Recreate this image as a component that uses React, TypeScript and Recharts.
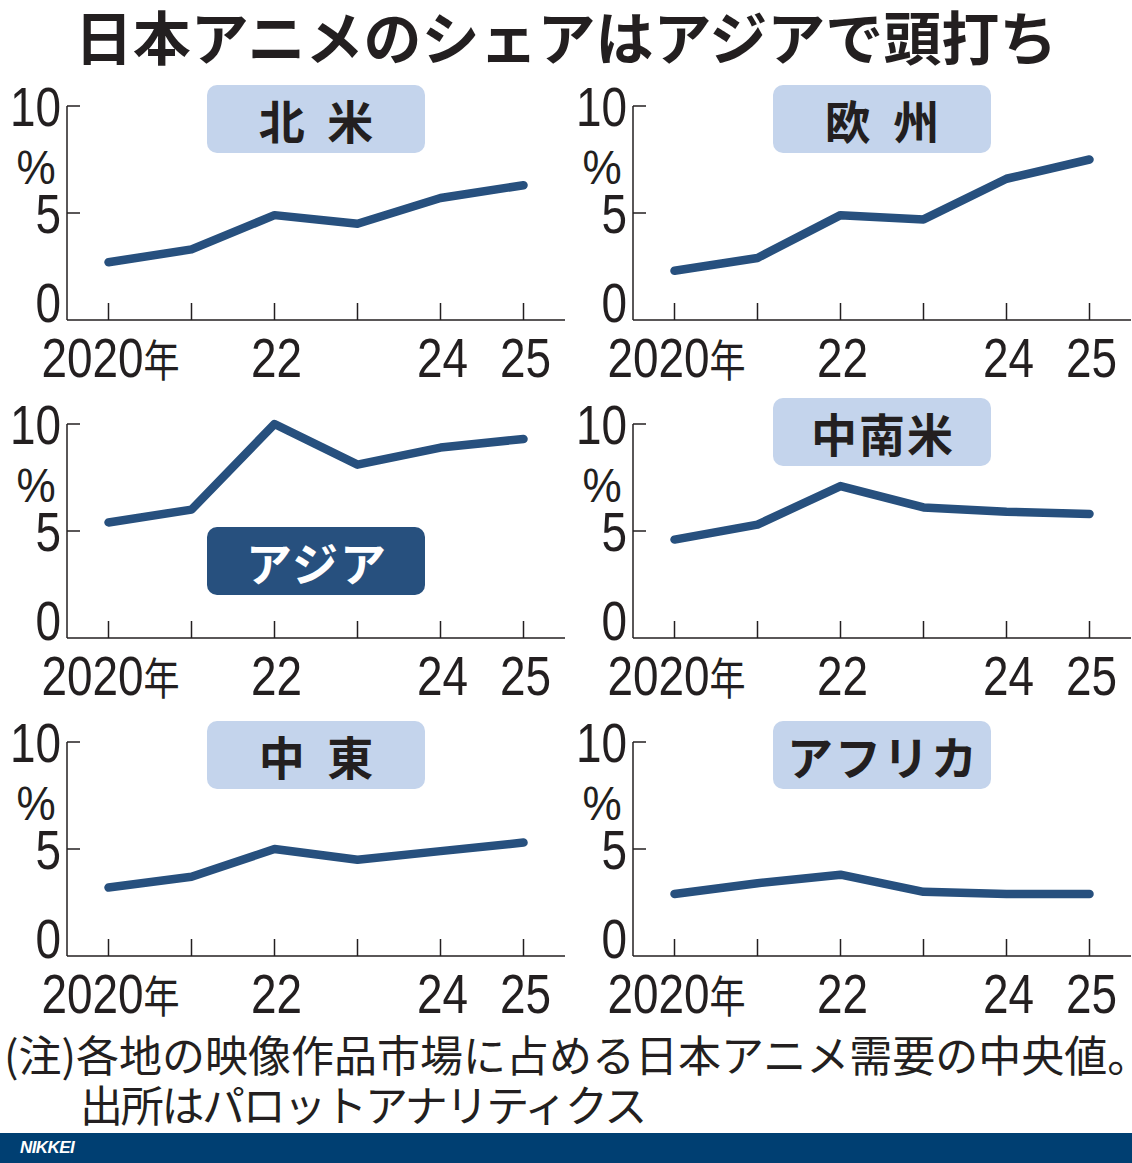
import React from "react";
import { Line, LineChart, XAxis, YAxis } from "recharts";

// data (share of Japanese anime, %)
const years = [2020, 2021, 2022, 2023, 2024, 2025];
const yearLabels: Record<number, string> = { 2020: "2020", 2022: "22", 2024: "24", 2025: "25" };
const yTicks = [0, 5, 10];

const northAmerica = [2.7, 3.3, 4.9, 4.5, 5.7, 6.3];
const europe = [2.3, 2.9, 4.9, 4.7, 6.6, 7.5];
const asia = [5.4, 6.0, 10.0, 8.1, 8.9, 9.3];
const latinAmerica = [4.6, 5.3, 7.1, 6.1, 5.9, 5.8];
const middleEast = [3.2, 3.7, 5.0, 4.5, 4.9, 5.3];
const africa = [2.9, 3.4, 3.8, 3.0, 2.9, 2.9];

const title = "日本アニメのシェアはアジアで頭打ち";
const note1 = "(注)各地の映像作品市場に占める日本アニメ需要の中央値。";
const note2 = "出所はパロットアナリティクス";

const INK = "#231f20";
const LINE = "#27507e";
const PILL = "#c4d4ec";
const NUM_FONT = "'Liberation Sans', Arial, sans-serif";
const JP_FONT = "'Noto Sans CJK JP', 'Noto Sans', sans-serif";
const SQUEEZE = 0.82;

const XTick = (props: any) => {
  const { x, y, payload } = props;
  const label = yearLabels[payload.value];
  return (
    <g>
      <line x1={x} x2={x} y1={y} y2={y - 17} stroke={INK} strokeWidth={1.5} />
      {label && (
        <text
          transform={`translate(${x + 2},${y + 57}) scale(${SQUEEZE},1)`}
          textAnchor="middle"
          fill={INK}
          fontFamily={NUM_FONT}
          fontSize={56}
        >
          {label}
          {payload.value === 2020 && (
            <tspan fontFamily={JP_FONT} fontSize={44}>年</tspan>
          )}
        </text>
      )}
    </g>
  );
};

const YTick = (props: any) => {
  const { x, y, payload } = props;
  const v = payload.value;
  return (
    <g>
      {v !== 0 && <line x1={x} x2={x + 13} y1={y} y2={y} stroke={INK} strokeWidth={1.5} />}
      <text
        transform={`translate(${x - 6},${v === 0 ? y + 2 : y + 20}) scale(${SQUEEZE},1)`}
        textAnchor="end"
        fill={INK}
        fontFamily={NUM_FONT}
        fontSize={56}
      >
        {v}
      </text>
      {v === 10 && (
        <text
          transform={`translate(${x - 31},${y + 78}) scale(0.9,1)`}
          textAnchor="middle"
          fill={INK}
          fontFamily={NUM_FONT}
          fontSize={49}
        >
          %
        </text>
      )}
    </g>
  );
};

interface PanelProps {
  left: number;
  top: number;
  values: number[];
  name: string;
  pillTop: number;
  dark?: boolean;
}

const Panel = ({ left, top, values, name, pillTop, dark }: PanelProps) => {
  const rows = years.map((year, i) => ({ year, value: values[i] }));
  const spaced = name.includes(" ");
  return (
    <div style={{ position: "absolute", left, top, width: 566, height: 390 }}>
      <LineChart width={566} height={390} data={rows} margin={{ top: 106, right: 1, left: 7, bottom: 10 }}>
        <XAxis
          dataKey="year"
          type="number"
          domain={[2019.5, 2025.5]}
          ticks={years}
          interval={0}
          height={60}
          tickSize={0}
          tickMargin={0}
          tickLine={false}
          tick={<XTick />}
          axisLine={{ stroke: INK, strokeWidth: 1.5 }}
        />
        <YAxis
          domain={[0, 10]}
          ticks={yTicks}
          interval={0}
          width={60}
          tickSize={0}
          tickMargin={0}
          tickLine={false}
          tick={<YTick />}
          axisLine={{ stroke: INK, strokeWidth: 1.5 }}
        />
        <Line
          type="linear"
          dataKey="value"
          stroke={LINE}
          strokeWidth={8.5}
          strokeLinecap="round"
          strokeLinejoin="round"
          dot={false}
          activeDot={false}
          isAnimationActive={false}
        />
      </LineChart>
      <div
        style={{
          position: "absolute",
          left: 207,
          top: pillTop,
          width: 218,
          height: 68,
          borderRadius: 10,
          background: dark ? LINE : PILL,
          color: dark ? "#ffffff" : INK,
          fontFamily: JP_FONT,
          fontWeight: 700,
          fontSize: 46,
          lineHeight: "68px",
          textAlign: "center",
          letterSpacing: spaced ? 6 : 2,
          textIndent: spaced ? 6 : 2,
        }}
      >
        {name}
      </div>
    </div>
  );
};

export default function App() {
  return (
    <div style={{ position: "absolute", left: 0, top: 0, width: 1132, height: 1163, background: "#fff", overflow: "hidden" }}>
      <div
        style={{
          position: "absolute",
          left: 0,
          top: 6,
          width: 1132,
          textAlign: "center",
          fontFamily: JP_FONT,
          fontWeight: 700,
          fontSize: 58,
          lineHeight: "58px",
          letterSpacing: 0,
          color: INK,
        }}
      >
        {title}
      </div>
      <Panel left={0} top={0} values={northAmerica} name="北 米" pillTop={85} />
      <Panel left={566} top={0} values={europe} name="欧 州" pillTop={85} />
      <Panel left={0} top={318} values={asia} name="アジア" pillTop={209} dark />
      <Panel left={566} top={318} values={latinAmerica} name="中南米" pillTop={80} />
      <Panel left={0} top={636} values={middleEast} name="中 東" pillTop={85} />
      <Panel left={566} top={636} values={africa} name="アフリカ" pillTop={85} />
      <div
        style={{
          position: "absolute",
          left: 4,
          top: 1028,
          fontFamily: JP_FONT,
          fontSize: 43,
          lineHeight: "50px",
          color: INK,
          whiteSpace: "nowrap",
        }}
      >
        <div>{note1}</div>
        <div style={{ paddingLeft: 76, letterSpacing: -2.3 }}>{note2}</div>
      </div>
      <div
        style={{
          position: "absolute",
          left: 0,
          top: 1133,
          width: 1132,
          height: 30,
          background: "#003f72",
        }}
      >
        <span
          style={{
            position: "absolute",
            left: 20,
            top: 5,
            color: "#fff",
            fontFamily: "'Liberation Sans', Arial, sans-serif",
            fontWeight: 700,
            fontStyle: "italic",
            fontSize: 17,
            letterSpacing: -0.6,
          }}
        >
          NIKKEI
        </span>
      </div>
    </div>
  );
}
